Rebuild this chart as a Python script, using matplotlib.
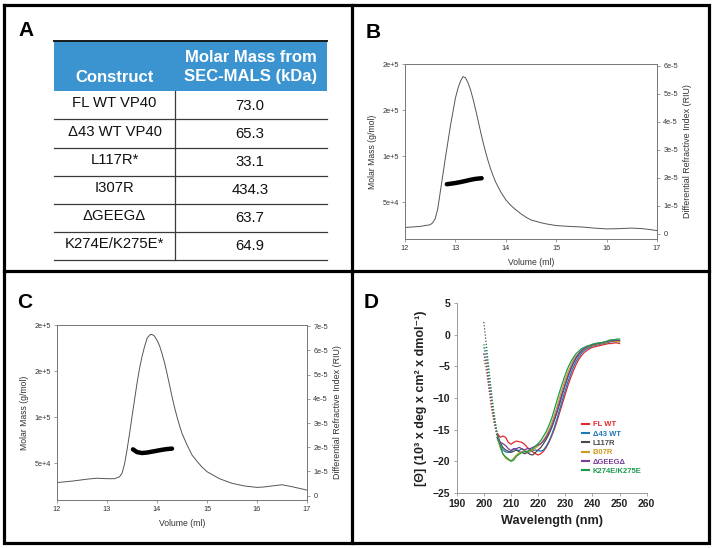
import matplotlib
matplotlib.use("Agg")
import matplotlib.pyplot as plt
from matplotlib.lines import Line2D
from matplotlib.patches import Rectangle

plt.rcParams['font.family'] = ['Liberation Sans', 'DejaVu Sans']

W, H = 713, 548

# ---------------- Panel A data ----------------
constructs = ["FL WT VP40", "Δ43 WT VP40", "L117R*", "I307R", "ΔGEEGΔ", "K274E/K275E*"]
molar_mass_kda = ["73.0", "65.3", "33.1", "434.3", "63.7", "64.9"]
header_left = "Construct"
header_right = ["Molar Mass from", "SEC-MALS (kDa)"]

# ---------------- Panel B data ----------------
b_vol = [12.0, 12.3, 12.5, 12.55, 12.6, 12.65, 12.7, 12.8, 12.9, 13.0, 13.05, 13.1, 13.15,
         13.2, 13.25, 13.3, 13.35, 13.4, 13.45, 13.5, 13.55, 13.6, 13.65, 13.7, 13.75, 13.8,
         13.9, 14.0, 14.1, 14.2, 14.3, 14.4, 14.5, 14.6, 14.7, 14.8, 15.0, 15.25, 15.5,
         15.75, 16.0, 16.25, 16.5, 16.7, 16.85, 17.0]
b_ri = [0.23, 0.27, 0.33, 0.4, 0.55, 0.9, 1.5, 2.7, 3.85, 4.85, 5.2, 5.45, 5.62, 5.58,
        5.4, 5.15, 4.82, 4.45, 4.05, 3.65, 3.27, 2.92, 2.6, 2.32, 2.07, 1.85, 1.5, 1.22,
        1.02, 0.86, 0.72, 0.6, 0.5, 0.45, 0.4, 0.36, 0.3, 0.27, 0.25, 0.21, 0.18, 0.19,
        0.21, 0.19, 0.16, 0.12]  # x 1e-5 RIU
b_mm_vol = [12.83, 12.9, 13.0, 13.1, 13.2, 13.3, 13.4, 13.52]
b_mm = [69.5e3, 70.0e3, 70.8e3, 71.8e3, 73.0e3, 74.3e3, 75.3e3, 76.0e3]

# ---------------- Panel C data ----------------
c_vol = [12.0, 12.3, 12.6, 12.8, 13.0, 13.15, 13.25, 13.3, 13.35, 13.4, 13.45, 13.5, 13.55,
         13.6, 13.65, 13.7, 13.75, 13.8, 13.83, 13.87, 13.91, 13.95, 14.0, 14.05, 14.1,
         14.15, 14.2, 14.25, 14.3, 14.35, 14.4, 14.45, 14.5, 14.6, 14.7, 14.8, 14.9, 15.0,
         15.25, 15.5, 15.75, 16.0, 16.15, 16.3, 16.5, 16.7, 17.0]
c_ri = [0.54, 0.6, 0.68, 0.72, 0.7, 0.7, 0.78, 0.92, 1.3, 1.88, 2.55, 3.26, 3.95, 4.64,
        5.25, 5.74, 6.15, 6.49, 6.58, 6.66, 6.65, 6.59, 6.42, 6.2, 5.87, 5.5, 5.05, 4.58,
        4.09, 3.65, 3.26, 2.9, 2.57, 2.1, 1.68, 1.42, 1.18, 0.99, 0.7, 0.51, 0.4, 0.34,
        0.36, 0.40, 0.45, 0.37, 0.23]
c_mm_vol = [13.52, 13.6, 13.7, 13.8, 13.9, 14.0, 14.1, 14.2, 14.3]
c_mm = [65.0e3, 62.0e3, 61.0e3, 61.5e3, 62.5e3, 63.5e3, 64.5e3, 65.3e3, 65.8e3]

sec_left_ticks = [5e4, 1e5, 1.5e5, 2e5]
sec_left_labels = ["5e+4", "1e+5", "2e+5", "2e+5"]
b_right_ticks = [0, 1, 2, 3, 4, 5, 6]
b_right_labels = ["0", "1e-5", "2e-5", "3e-5", "4e-5", "5e-5", "6e-5"]
c_right_ticks = [0, 1, 2, 3, 4, 5, 6, 7]
c_right_labels = ["0", "1e-5", "2e-5", "3e-5", "4e-5", "5e-5", "6e-5", "7e-5"]
vol_ticks = [12, 13, 14, 15, 16, 17]

# ---------------- Panel D data ----------------
wavelength = list(range(200, 251))
cd_labels = ["FL WT", "Δ43 WT", "L117R", "I307R", "ΔGEEGΔ", "K274E/K275E"]
cd_colors = ["#e5282c", "#1f78b8", "#4a4a4a", "#c99a1e", "#7a3d98", "#1b9a4c"]
cd_fl_wt = [-3, -5, -9, -12, -14.5, -15.6, -16.2, -16.0, -16.2, -17.0, -17.3, -17.0, -16.8,
            -16.9, -17.0, -17.3, -17.8, -18.2, -18.5, -18.8, -19.0, -18.8, -18.4, -17.8,
            -17.0, -16.0, -14.9, -13.6, -12.2, -10.8, -9.4, -8.0, -6.8, -5.7, -4.7, -3.9,
            -3.3, -2.8, -2.5, -2.2, -2.0, -1.9, -1.8, -1.7, -1.6, -1.5, -1.4, -1.4, -1.3,
            -1.3, -1.4]
cd_d43_wt = [-2, -4, -8, -11, -14, -16.5, -17.5, -18.2, -18.5, -18.6, -18.4, -18.0, -18.2,
             -18.3, -18.0, -18.4, -18.6, -18.5, -18.3, -18.2, -18.3, -18.4, -18.2, -17.6,
             -16.8, -15.8, -14.6, -13.2, -11.7, -10.2, -8.8, -7.4, -6.2, -5.1, -4.2, -3.5,
             -2.9, -2.5, -2.2, -2.0, -1.8, -1.7, -1.6, -1.5, -1.4, -1.3, -1.2, -1.1, -1.1,
             -1.1, -1.1]
cd_l117r = [2, -2, -6, -10, -13.5, -15.8, -17, -17.8, -18.2, -18.4, -18.6, -18.4, -18.2,
            -18.5, -18.6, -18.8, -18.6, -18.9, -19.0, -18.6, -18.2, -17.8, -17.2, -16.5,
            -15.7, -14.7, -13.5, -12.2, -10.8, -9.3, -7.9, -6.6, -5.5, -4.5, -3.7, -3.1,
            -2.6, -2.2, -2.0, -1.8, -1.7, -1.6, -1.5, -1.4, -1.3, -1.2, -1.1, -1.0, -1.0,
            -0.9, -0.9]
cd_i307r = [-4, -6, -9, -12, -14, -16.2, -17.8, -18.8, -19.5, -19.8, -19.9, -19.5, -19.0,
            -18.7, -18.5, -18.3, -18.5, -18.4, -18.2, -17.9, -17.6, -17.2, -16.6, -15.9,
            -15.0, -14.0, -12.7, -11.3, -9.8, -8.4, -7.1, -5.9, -4.9, -4.0, -3.4, -2.9,
            -2.5, -2.2, -2.0, -1.8, -1.7, -1.6, -1.5, -1.4, -1.3, -1.2, -1.1, -1.0, -1.0,
            -1.1, -1.1]
cd_dgeeg = [-3, -5, -8.5, -11.5, -14, -16.3, -17.0, -17.2, -17.5, -18.0, -18.3, -18.0,
            -18.0, -17.8, -18.0, -18.2, -18.0, -18.0, -17.8, -17.6, -17.4, -17.2, -16.8,
            -16.2, -15.4, -14.5, -13.3, -12.0, -10.5, -9.1, -7.8, -6.5, -5.4, -4.4, -3.6,
            -3.0, -2.5, -2.2, -1.9, -1.7, -1.6, -1.5, -1.4, -1.3, -1.2, -1.1, -1.0, -1.0,
            -0.9, -0.9, -0.9]
cd_k274e = [-1.5, -3.0, -6.5, -10, -13, -16, -17.5, -18.8, -19.3, -19.6, -20.0, -19.8,
            -19.2, -18.9, -18.6, -18.5, -18.4, -18.2, -18.0, -17.6, -17.2, -16.7, -16.0,
            -15.3, -14.3, -13.2, -11.8, -10.3, -8.9, -7.6, -6.3, -5.2, -4.3, -3.6, -3.0,
            -2.6, -2.2, -2.0, -1.8, -1.7, -1.5, -1.4, -1.3, -1.3, -1.2, -1.1, -0.9, -0.8,
            -0.8, -0.7, -0.7]
cd_series = [cd_fl_wt, cd_d43_wt, cd_l117r, cd_i307r, cd_dgeeg, cd_k274e]

# =====================================================================
fig = plt.figure(figsize=(W / 100, H / 100), dpi=100)
fig.patch.set_facecolor("white")


def rect(l, t, r, b):
    return [l / W, 1 - b / H, (r - l) / W, (b - t) / H]


# overlay in pixel coordinates
ov = fig.add_axes([0, 0, 1, 1], zorder=5)
ov.set_xlim(0, W)
ov.set_ylim(H, 0)
ov.axis("off")

# frame
fl = 2.3
ov.plot([4, 709, 709, 4, 4], [5, 5, 543, 543, 5], color="black", lw=fl, solid_joinstyle="miter")
ov.plot([352, 352], [5, 543], color="black", lw=fl)
ov.plot([4, 709], [271, 271], color="black", lw=fl)

# panel letters
for letter, (x, y) in zip("ABCD", [(26, 31), (373, 32), (25, 302), (371, 302)]):
    ov.text(x, y, letter, fontsize=15, fontweight="bold", ha="center", va="center")

# ---------- Table (panel A) ----------
tl, tr, tc = 54, 327, 175
head_top, head_bot = 41, 91
row_lines = [91, 119, 148, 176, 204, 232, 260]
ov.add_patch(Rectangle((tl, head_top), tr - tl, head_bot - head_top, facecolor="#3b93d0",
                       edgecolor="none"))
ov.plot([tl, tr], [head_top, head_top], color="#1a1a1a", lw=1.4)
ov.text((tl + tc) / 2, 77, header_left, color="white", fontsize=12, fontweight="bold",
        ha="center", va="center")
ov.text((tc + tr) / 2, 57, header_right[0], color="white", fontsize=12, fontweight="bold",
        ha="center", va="center")
ov.text((tc + tr) / 2, 77, header_right[1], color="white", fontsize=12, fontweight="bold",
        ha="center", va="center")
for y in row_lines[1:]:
    ov.plot([tl, tr], [y, y], color="#3a3a3a", lw=0.9)
ov.plot([tc, tc], [row_lines[0], row_lines[-1]], color="#3a3a3a", lw=0.9)
for i, (name, val) in enumerate(zip(constructs, molar_mass_kda)):
    yc = (row_lines[i] + row_lines[i + 1]) / 2
    ov.text((tl + tc) / 2, yc - 2, name, fontsize=10.7, ha="center", va="center", color="#111")
    ov.text((tc + tr) / 2 - 1, yc + 0.5, val, fontsize=10.7, ha="center", va="center", color="#111")


# ---------- SEC-MALS panels ----------
def sec_panel(r, vol, ri, mmv, mm, rticks, rlabels, rtop):
    ax = fig.add_axes(r)
    ax2 = ax.twinx()
    ax2.plot(vol, ri, color="#555555", lw=0.7)
    ax.plot(mmv, mm, color="black", lw=3.2, solid_capstyle="round", zorder=5)
    ax.set_zorder(ax2.get_zorder() + 1)
    ax.patch.set_visible(False)
    ax.set_xlim(12, 17)
    ax.set_ylim(1e4, 2e5)
    ax2.set_ylim(-0.18, rtop)
    ax.set_xticks(vol_ticks)
    ax.set_xticklabels([str(v) for v in vol_ticks])
    ax.set_yticks(sec_left_ticks)
    ax.set_yticklabels(sec_left_labels)
    ax2.set_yticks(rticks)
    ax2.set_yticklabels(rlabels)
    for a in (ax, ax2):
        for s in a.spines.values():
            s.set_color("#777777")
            s.set_linewidth(0.6)
        a.tick_params(labelsize=5.3, length=2.5, width=0.5, colors="#777777",
                      labelcolor="#333333", pad=2)
    ax.set_xlabel("Volume (ml)", fontsize=6.2, color="#333333", labelpad=4)
    ax.set_ylabel("Molar Mass (g/mol)", fontsize=6.2, color="#333333", labelpad=4)
    ax2.set_ylabel("Differential Refractive Index (RIU)", fontsize=6.4, color="#333333",
                   labelpad=4)
    return ax, ax2


sec_panel(rect(405, 64, 657, 239), b_vol, b_ri, b_mm_vol, b_mm, b_right_ticks,
          b_right_labels, 6.07)
sec_panel(rect(57, 325, 307, 500), c_vol, c_ri, c_mm_vol, c_mm, c_right_ticks,
          c_right_labels, 7.05)

# ---------- CD panel (D) ----------
axd = fig.add_axes(rect(456.7, 303, 646.7, 493))
split = wavelength.index(205)
for lab, col, ys in zip(cd_labels, cd_colors, cd_series):
    axd.plot(wavelength[:split + 1], ys[:split + 1], color=col, lw=0.9, ls=(0, (1, 1.5)))
    axd.plot(wavelength[split:], ys[split:], color=col, lw=0.9, label=lab)
axd.set_xlim(190, 260)
axd.set_ylim(-25, 5)
axd.set_xticks([190, 200, 210, 220, 230, 240, 250, 260])
axd.set_yticks([-25, -20, -15, -10, -5, 0, 5])
axd.spines["top"].set_visible(False)
axd.spines["right"].set_visible(False)
for s in ("left", "bottom"):
    axd.spines[s].set_color("#999999")
    axd.spines[s].set_linewidth(0.7)
axd.tick_params(labelsize=7.5, length=2.5, width=0.6, colors="#999999",
                labelcolor="#222222", pad=2)
for t in axd.get_xticklabels() + axd.get_yticklabels():
    t.set_fontweight("bold")
axd.set_xlabel("Wavelength (nm)", fontsize=9.2, fontweight="bold", color="#222222",
               labelpad=4)
axd.set_ylabel("[Θ] (10³ x deg x cm² x dmol⁻¹)", fontsize=9, fontweight="bold",
               color="#222222", labelpad=4)
handles = [Line2D([0], [0], color=c, lw=1.5) for c in cd_colors]
leg = axd.legend(handles, cd_labels, loc="center left", bbox_to_anchor=(0.64, 0.237),
                 frameon=False, prop={"size": 5.5, "weight": "bold"}, labelcolor=cd_colors,
                 handlelength=0.9, handletextpad=0.5, labelspacing=0.26, borderpad=0)

fig.savefig("out.png", dpi=100)
